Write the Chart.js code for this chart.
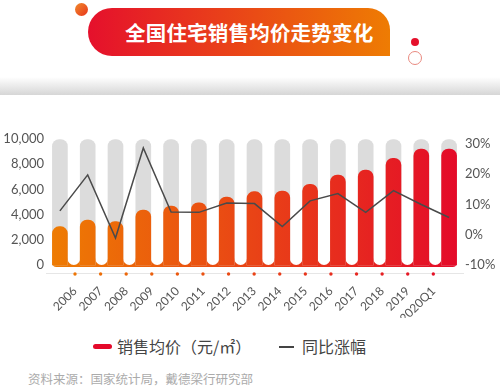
<!DOCTYPE html>
<html>
<head>
<meta charset="utf-8">
<script src="https://cdn.jsdelivr.net/npm/chart.js@4/dist/chart.umd.min.js"></script>
<style>
  body { margin: 0; width: 500px; height: 391px; background: #fff; overflow: hidden; position: relative; font-family: "Noto Sans CJK SC", sans-serif; }
  .dot { position: absolute; border-radius: 50%; }
  #banner {
    position: absolute; left: 88px; top: 8px; width: 302px; height: 48px;
    border-radius: 24px 22px 0 24px;
    background: linear-gradient(to right, #e5102c, #ee7c03);
    color: #fff; font-weight: bold; font-size: 20.5px; line-height: 48px;
    text-indent: 37px; letter-spacing: 0.2px;
  }
  #shadow { position: absolute; left: 0; top: 77px; width: 500px; height: 18px; background: linear-gradient(to bottom, #fff, #d6d6d6); }
  #wrap { position: absolute; left: 0; top: 100px; width: 500px; height: 218px; }
  #legend { position: absolute; top: 334px; left: 0; width: 500px; height: 24px; font-size: 16px; color: #444; }
  #legend span { position: absolute; top: 0; line-height: 24px; }
  #source { position: absolute; left: 28px; top: 369px; font-size: 12.5px; color: #ababab; }
</style>
</head>
<body>
<div class="dot" style="left:75px;top:3px;width:13px;height:13px;background:linear-gradient(135deg,#f08a2c,#e8351c);"></div>
<div class="dot" style="left:411px;top:38px;width:8px;height:8px;background:#e5102c;"></div>
<div class="dot" style="left:408px;top:51px;width:14px;height:14px;border:1px solid #e98a80;box-sizing:border-box;"></div>
<div id="banner">全国住宅销售均价走势变化</div>
<div id="shadow"></div>
<div id="wrap"><canvas id="chartPrice"></canvas></div>
<div id="legend">
  <div style="position:absolute;left:93px;top:10px;width:19px;height:5px;border-radius:3px;background:#e4092a;"></div>
  <span style="left:117px;">销售均价（元/㎡）</span>
  <div style="position:absolute;left:279px;top:12px;width:15px;height:1.5px;background:#444;"></div>
  <span style="left:302px;">同比涨幅</span>
</div>
<div id="source">资料来源：国家统计局，戴德梁行研究部</div>

<script>
const categories = ["2006", "2007", "2008", "2009", "2010", "2011", "2012", "2013", "2014", "2015", "2016", "2017", "2018", "2019", "2020Q1"];
const avgPrice = [3040, 3570, 3440, 4365, 4680, 4940, 5390, 5820, 5870, 6400, 7140, 7540, 8470, 9200, 9200];
const yoyGrowth = [7.9, 19.8, -1.1, 28.7, 7.5, 7.4, 10.5, 10.3, 2.7, 11.2, 13.6, 7.4, 14.6, 10.0, 5.7];
const trackMax = categories.map(() => 9950);
const priceTicks = [0, 2000, 4000, 6000, 8000, 10000];
const growthTicks = [-10, 0, 10, 20, 30];

const ORANGE = "#ee7d02";
const RED = "#e4092a";

// horizontal orange -> red gradient across the plot
function barGradient(chart) {
  const area = chart.chartArea;
  if (!area) return ORANGE;
  const g = chart.ctx.createLinearGradient(area.left, 0, area.right, 0);
  g.addColorStop(0, ORANGE);
  g.addColorStop(1, RED);
  return g;
}

// base strip under the bars with white rounded gaps between them
const baseStrip = {
  id: "baseStrip",
  beforeDatasetsDraw(chart) {
    const meta = chart.getDatasetMeta(1);
    if (!meta.data.length) return;
    const ctx = chart.ctx;
    const y0 = chart.scales.y.getPixelForValue(0);
    const bars = meta.data;
    const w = bars[0].width;
    const left = bars[0].x - w / 2;
    const right = bars[bars.length - 1].x + w / 2;
    ctx.save();
    ctx.fillStyle = barGradient(chart);
    ctx.beginPath();
    ctx.roundRect(left, y0 - 7, right - left, 9, [0, 0, 4, 4]);
    ctx.fill();
    ctx.fillStyle = "#fff";
    for (let i = 0; i < bars.length - 1; i++) {
      const gx = bars[i].x + w / 2;
      const gw = bars[i + 1].x - w / 2 - gx;
      ctx.beginPath();
      ctx.roundRect(gx, y0 - 20, gw, 20, [0, 0, gw / 2, gw / 2]);
      ctx.fill();
    }
    ctx.restore();
  },
  afterDraw(chart) {
    const ctx = chart.ctx;
    const xl = chart.scales.xl;
    ctx.save();
    ctx.fillStyle = barGradient(chart);
    categories.forEach((c, i) => {
      ctx.beginPath();
      ctx.arc(xl.getPixelForValue(i), chart.chartArea.bottom + 1, 1.7, 0, Math.PI * 2);
      ctx.fill();
    });
    ctx.restore();
  },
};

const tickFont = { family: "Lato, 'Open Sans', sans-serif", size: 13 };

new Chart(document.getElementById("chartPrice"), {
  type: "bar",
  data: {
    labels: categories,
    datasets: [
      {
        type: "line",
        label: "同比涨幅",
        data: yoyGrowth,
        yAxisID: "y2",
        borderColor: "#4a4a4a",
        borderWidth: 1.5,
        pointRadius: 0,
        tension: 0,
        order: 0,
      },
      {
        label: "销售均价（元/㎡）",
        data: avgPrice,
        backgroundColor: (ctx) => barGradient(ctx.chart),
        borderRadius: 7,
        barThickness: 15,
        grouped: false,
        order: 1,
      },
      {
        label: "track",
        data: trackMax,
        backgroundColor: "#dcdcdc",
        borderRadius: 7,
        barThickness: 15,
        grouped: false,
        order: 2,
      },
    ],
  },
  options: {
    responsive: true,
    maintainAspectRatio: false,
    animation: false,
    layout: { padding: { top: 39, left: 0, right: 0, bottom: 0 } },
    plugins: { legend: { display: false }, tooltip: { enabled: false } },
    scales: {
      x: { type: "category", offset: true, display: false },
      xl: {
        type: "linear",
        position: "bottom",
        offset: false,
        min: -1.133,
        max: 15.16,
        afterBuildTicks: (axis) => { axis.ticks = categories.map((c, i) => ({ value: i })); },
        afterFit: (axis) => { axis.height = 45; },
        grid: { display: false, offset: false },
        border: { display: true, color: "#e6e6e6", width: 1 },
        ticks: {
          autoSkip: false,
          minRotation: 45,
          maxRotation: 45,
          padding: 3,
          color: "#555",
          font: { family: "Lato, 'Open Sans', sans-serif", size: 12 },
          callback: (v) => categories[v],
        },
      },
      y: {
        position: "left",
        min: -635,
        max: 10000,
        afterBuildTicks: (axis) => { axis.ticks = priceTicks.map((v) => ({ value: v })); },
        afterFit: (axis) => { axis.width = 46; },
        grid: { display: false, drawTicks: false },
        border: { display: false },
        ticks: { padding: 2, color: "#555", font: tickFont, callback: (v) => v.toLocaleString("en-US") },
      },
      y2: {
        position: "right",
        min: -12.64,
        max: 31.65,
        afterBuildTicks: (axis) => { axis.ticks = growthTicks.map((v) => ({ value: v })); },
        afterFit: (axis) => { axis.width = 37; },
        grid: { display: false, drawTicks: false },
        border: { display: false },
        ticks: { padding: 2, color: "#555", font: tickFont, callback: (v) => v + "%" },
      },
    },
  },
  plugins: [baseStrip],
});
</script>
</body>
</html>
